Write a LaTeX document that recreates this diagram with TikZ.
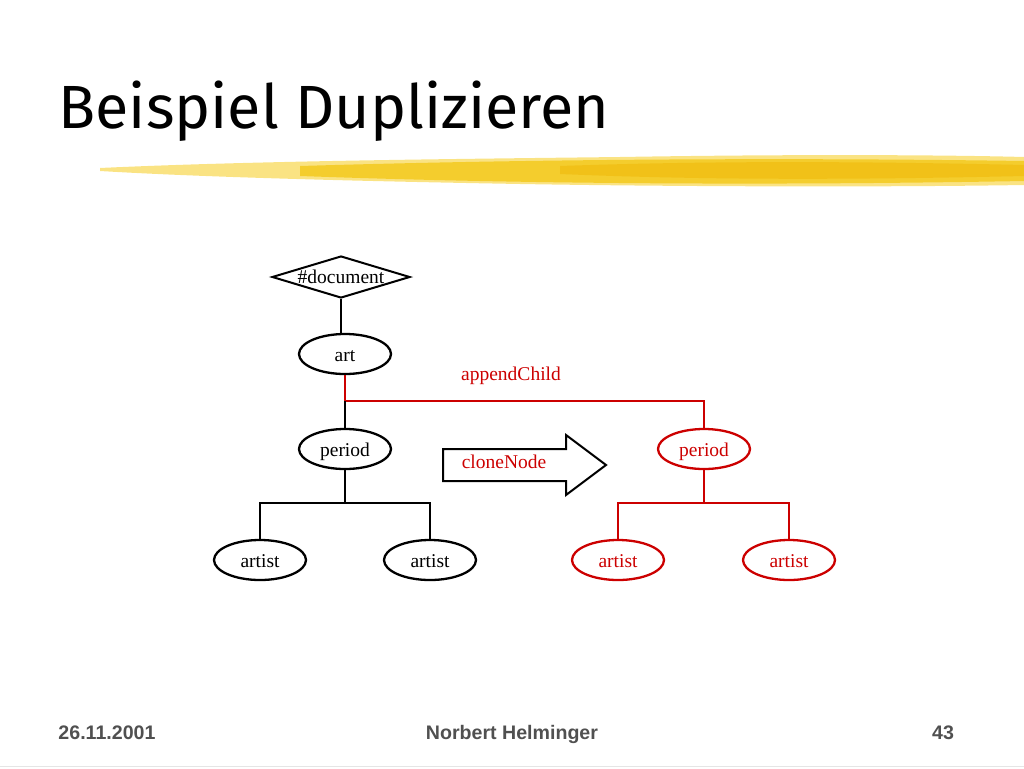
\documentclass[tikz,border=0pt]{standalone}
\usepackage{fontspec}
\setmainfont{Liberation Serif}
\newfontfamily\titlefont{Fira Sans}
\newfontfamily\footfont{Liberation Sans}
\usepackage{tikz}
\usetikzlibrary{shapes.geometric}
\definecolor{clone}{HTML}{CC0000}
\definecolor{foot}{HTML}{505050}
\definecolor{brush}{HTML}{F2C200}
\definecolor{brushlight}{HTML}{F8DA5A}
\definecolor{brushdark}{HTML}{EDB400}
\tikzset{
  elem/.style={ellipse, draw=black, line width=2.3pt, minimum width=92pt, minimum height=40pt, inner sep=0pt,
    text height=14pt, text depth=0pt, font=\fontsize{19.5}{19.5}\selectfont},
  celem/.style={elem, draw=clone, text=clone},
  docnode/.style={diamond, draw=black, line width=2pt, aspect=3.3, inner sep=0pt, minimum width=138pt, minimum height=42pt,
    font=\fontsize{19.5}{19.5}\selectfont},
  bline/.style={draw=black, line width=2.3pt},
  rline/.style={draw=clone, line width=2.3pt},
  rlabel/.style={text=clone, font=\fontsize{19.5}{19.5}\selectfont},
  footer/.style={anchor=base, text=foot, font=\footfont\bfseries\fontsize{19.6}{19.6}\selectfont}
}

\begin{document}
\begin{tikzpicture}[x=1pt, y=-1pt]
  \useasboundingbox (0,0) rectangle (1024,768);

  % title and brush stroke
  \fill[brushlight, opacity=0.75] (100,168) .. controls (250,161) and (450,159) .. (620,157)
    .. controls (800,154) and (950,155) .. (1024,157) -- (1024,185)
    .. controls (900,187) and (700,187) .. (520,184) .. controls (350,181) and (200,177) .. (100,171) -- cycle;
  \fill[brush, opacity=0.65] (300,166) .. controls (500,160) and (750,157) .. (1024,161)
    -- (1024,181) .. controls (800,185) and (550,185) .. (300,176) -- cycle;
  \fill[brushdark, opacity=0.45] (560,166) .. controls (700,161) and (850,161) .. (1024,165)
    -- (1024,176) .. controls (850,180) and (700,180) .. (560,174) -- cycle;
  \node[anchor=base west, font=\titlefont\fontsize{61}{61}\selectfont] (title) at (55,128) {Beispiel Duplizieren};

  % original tree
  \node[docnode] (doc) at (341,277) {\#document};
  \node[elem] (art) at (345,354) {art};
  \node[elem] (per) at (345,449) {period};
  \node[elem] (artistA) at (260,560) {artist};
  \node[elem] (artistB) at (430,560) {artist};

  % cloned tree
  \node[celem] (cper) at (704,449) {period};
  \node[celem] (cartistA) at (618,560) {artist};
  \node[celem] (cartistB) at (789,560) {artist};

  \coordinate (hook) at (345,401);
  \coordinate (fork) at (345,503);
  \coordinate (cfork) at (704,503);

  \draw[bline] (doc.south) -- (doc.south |- art.north);
  \draw[rline] (art.south) -- (hook) -| (cper.north);
  \draw[bline] (hook) -- (per.north);
  \draw[bline] (per.south) -- (fork);
  \draw[bline] (artistA.north) |- (fork) -| (artistB.north);
  \draw[rline] (cper.south) -- (cfork);
  \draw[rline] (cartistA.north) |- (cfork) -| (cartistB.north);

  \node[rlabel] (append) at (511,376) {appendChild};

  % cloneNode arrow
  \draw[line width=2pt, line join=miter] (443,449) -- (566,449) -- (566,435) -- (606,465)
    -- (566,495) -- (566,481) -- (443,481) -- cycle;
  \node[rlabel, anchor=base] (clonelbl) at (504,468) {cloneNode};

  % footer
  \node[footer] (date) at (107,739) {26.11.2001};
  \node[footer] (author) at (512,739) {Norbert Helminger};
  \node[footer] (page) at (943,739) {43};
  \draw[black!10, line width=0.8pt] (0,766) -- (1024,766);
\end{tikzpicture}
\end{document}
